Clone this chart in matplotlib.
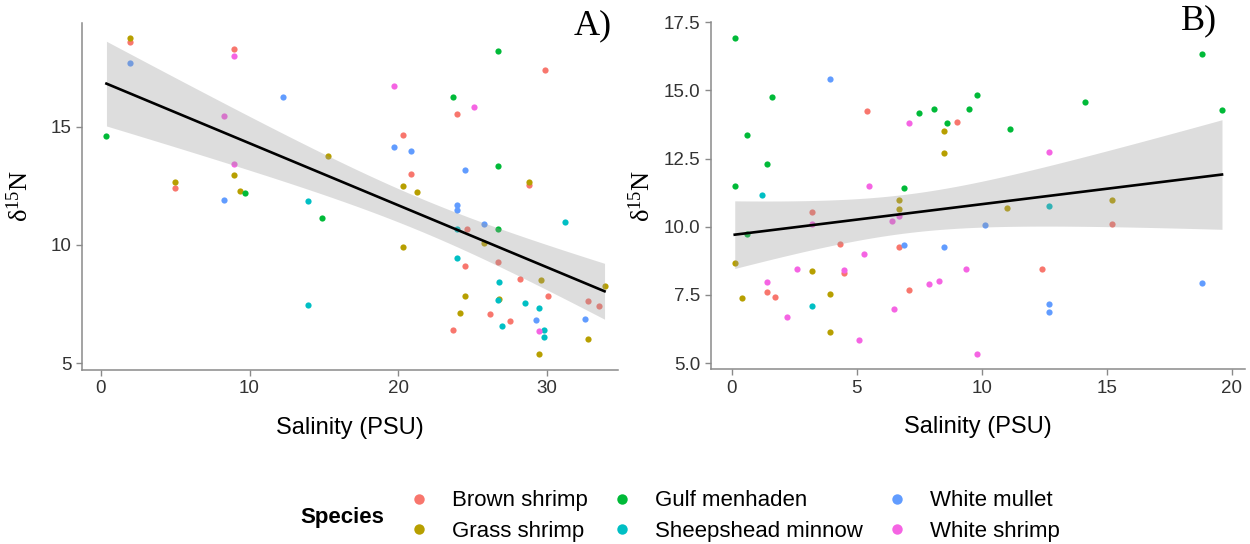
import numpy as np
import matplotlib
matplotlib.use("Agg")
import matplotlib.pyplot as plt
from matplotlib.lines import Line2D

plt.rcParams['font.family'] = ['Liberation Sans', 'DejaVu Sans']
plt.rcParams['mathtext.fontset'] = 'custom'
plt.rcParams['mathtext.rm'] = 'Liberation Serif'
plt.rcParams['mathtext.it'] = 'Liberation Serif'
plt.rcParams['mathtext.bf'] = 'Liberation Serif:bold'

species = ["Brown shrimp", "Grass shrimp", "Gulf menhaden",
           "Sheepshead minnow", "White mullet", "White shrimp"]
colors = ["#F8766D", "#B79F00", "#00BA38", "#00BFC4", "#619CFF", "#F564E3"]

# panel A: salinity, d15N per species
a_brown_x = [1.97, 8.99, 4.98, 29.89, 23.98, 20.29, 20.89, 28.79, 24.59, 24.47, 26.69, 28.19, 30.09, 32.77, 33.47, 26.17, 27.49, 23.69]
a_brown_y = [18.58, 18.27, 12.41, 17.39, 15.54, 14.63, 13.01, 12.52, 10.69, 9.11, 9.27, 8.58, 7.85, 7.63, 7.44, 7.08, 6.79, 6.42]
a_grass_x = [1.97, 15.29, 8.99, 4.98, 9.37, 28.79, 20.29, 21.28, 25.77, 20.29, 29.57, 33.87, 24.47, 26.78, 24.18, 32.77, 29.49]
a_grass_y = [18.76, 13.77, 12.96, 12.66, 12.30, 12.68, 12.51, 12.23, 10.07, 9.92, 8.52, 8.27, 7.86, 7.70, 7.13, 6.03, 5.38]
a_gulf_x = [0.38, 9.68, 14.9, 26.69, 23.69, 26.69, 26.69]
a_gulf_y = [14.59, 12.20, 11.14, 18.21, 16.27, 13.35, 10.69]
a_sheep_x = [13.9, 13.9, 31.19, 23.98, 23.98, 26.78, 26.69, 28.5, 29.49, 26.98, 29.79, 29.79]
a_sheep_y = [11.86, 7.48, 10.97, 10.66, 9.44, 8.45, 7.68, 7.54, 7.32, 6.59, 6.42, 6.10]
a_mullet_x = [1.97, 12.28, 8.27, 19.69, 20.89, 24.47, 23.98, 23.98, 25.77, 29.28, 32.57]
a_mullet_y = [17.69, 16.23, 11.92, 14.13, 13.97, 13.18, 11.69, 11.48, 10.89, 6.82, 6.87]
a_wshrimp_x = [8.99, 8.27, 8.99, 19.69, 25.08, 29.49]
a_wshrimp_y = [17.97, 15.44, 13.42, 16.73, 15.83, 6.35]

# panel B
b_brown_x = [5.4, 8.99, 3.21, 4.31, 6.69, 4.49, 1.41, 1.72, 7.09, 15.21, 12.40]
b_brown_y = [14.26, 13.85, 10.53, 9.38, 9.25, 8.30, 7.59, 7.41, 7.68, 10.10, 8.46]
b_grass_x = [8.49, 8.49, 6.69, 6.69, 0.12, 3.21, 0.41, 3.91, 3.91, 15.21, 11.0]
b_grass_y = [13.52, 12.71, 10.97, 10.64, 8.67, 8.37, 7.37, 7.53, 6.13, 10.97, 10.70]
b_gulf_x = [0.12, 1.61, 7.48, 8.08, 9.48, 8.59, 0.61, 1.41, 0.12, 6.89, 0.61, 18.81, 9.81, 14.11, 19.61, 11.11]
b_gulf_y = [16.93, 14.75, 14.18, 14.30, 14.33, 13.79, 13.35, 12.31, 11.49, 11.41, 9.74, 16.34, 14.82, 14.56, 14.28, 13.58]
b_sheep_x = [1.21, 3.21, 12.70]
b_sheep_y = [11.17, 7.10, 10.75]
b_mullet_x = [3.91, 6.89, 8.49, 10.11, 18.81, 12.70, 12.70]
b_mullet_y = [15.41, 9.32, 9.24, 10.05, 7.94, 7.17, 6.89]
b_wshrimp_x = [7.09, 5.49, 3.21, 6.39, 6.69, 5.29, 2.6, 4.49, 9.36, 1.41, 7.88, 8.28, 6.49, 2.21, 5.09, 12.70, 9.81]
b_wshrimp_y = [13.81, 11.50, 10.10, 10.20, 10.40, 9.01, 8.46, 8.42, 8.45, 7.97, 7.91, 8.00, 6.98, 6.68, 5.86, 12.75, 5.32]

panel_a = [(a_brown_x, a_brown_y), (a_grass_x, a_grass_y), (a_gulf_x, a_gulf_y),
           (a_sheep_x, a_sheep_y), (a_mullet_x, a_mullet_y), (a_wshrimp_x, a_wshrimp_y)]
panel_b = [(b_brown_x, b_brown_y), (b_grass_x, b_grass_y), (b_gulf_x, b_gulf_y),
           (b_sheep_x, b_sheep_y), (b_mullet_x, b_mullet_y), (b_wshrimp_x, b_wshrimp_y)]

T_CRIT = 1.99  # t(0.975, ~70 df)
AXIS_GREY = "#8a8a8a"
TEXT_GREY = "#333333"


def smooth(ax, groups):
	# lm fit with 95% confidence band, like geom_smooth(method="lm")
	x = np.concatenate([np.asarray(g[0], float) for g in groups])
	y = np.concatenate([np.asarray(g[1], float) for g in groups])
	b1, b0 = np.polyfit(x, y, 1)
	n = len(x)
	resid = y - (b0 + b1 * x)
	s = np.sqrt(np.sum(resid ** 2) / (n - 2))
	xs = np.linspace(x.min(), x.max(), 100)
	se = s * np.sqrt(1.0 / n + (xs - x.mean()) ** 2 / np.sum((x - x.mean()) ** 2))
	fit = b0 + b1 * xs
	ax.fill_between(xs, fit - T_CRIT * se, fit + T_CRIT * se, color="#999999", alpha=0.33, lw=0, zorder=3)
	ax.plot(xs, fit, color="black", lw=1.9, zorder=4)


def style(ax):
	for side in ["top", "right"]:
		ax.spines[side].set_visible(False)
	for side in ["left", "bottom"]:
		ax.spines[side].set_color(AXIS_GREY)
		ax.spines[side].set_linewidth(1.1)
	ax.tick_params(colors=AXIS_GREY, labelcolor=TEXT_GREY, labelsize=13.5, length=4, width=1.0)
	ax.set_xlabel("Salinity (PSU)", fontsize=17, color="black", labelpad=14)
	ax.set_ylabel("δ$^{15}$N", fontsize=19, family="Liberation Serif", color="black")


fig = plt.figure(figsize=(12.5, 5.44), dpi=100)
ax_a = fig.add_axes([0.0654, 0.3199, 0.4293, 0.6384])
ax_b = fig.add_axes([0.5686, 0.3211, 0.4274, 0.6390])

for ax, groups in [(ax_a, panel_a), (ax_b, panel_b)]:
	for (gx, gy), c in zip(groups, colors):
		ax.scatter(gx, gy, s=20, color=c, linewidths=0, zorder=2)
	smooth(ax, groups)
	style(ax)

ax_a.set_xlim(-1.28, 34.8)
ax_a.set_ylim(4.72, 19.39)
ax_a.set_xticks([0, 10, 20, 30])
ax_a.set_yticks([5, 10, 15])
ax_a.yaxis.set_label_coords(-0.091, 0.5)

ax_b.set_xlim(-0.84, 20.53)
ax_b.set_ylim(4.77, 17.52)
ax_b.set_xticks([0, 5, 10, 15, 20])
ax_b.set_yticks([5.0, 7.5, 10.0, 12.5, 15.0, 17.5])
ax_b.set_yticklabels(["5.0", "7.5", "10.0", "12.5", "15.0", "17.5"])
ax_b.yaxis.set_label_coords(-0.104, 0.5)

fig.text(612 / 1250, 1 - 26 / 544, "A)", ha="right", va="center", fontsize=26, family="Liberation Serif")
fig.text(1217 / 1250, 1 - 21 / 544, "B)", ha="right", va="center", fontsize=26, family="Liberation Serif")

handles = [Line2D([], [], marker="o", ls="", color=c, markersize=7.5, markeredgewidth=0) for c in colors]
fig.text(300 / 1250, 1 - 517 / 544, "Species", fontsize=16, fontweight="bold", va="center", ha="left")
fig.legend(handles, species, loc="center left", bbox_to_anchor=(408 / 1250, 1 - 516 / 544), ncol=3,
           frameon=False, fontsize=16, handlelength=1.0, handletextpad=1.0, columnspacing=1.02,
           labelspacing=0.42, borderpad=0, borderaxespad=0)

fig.savefig("out.png", dpi=100)
